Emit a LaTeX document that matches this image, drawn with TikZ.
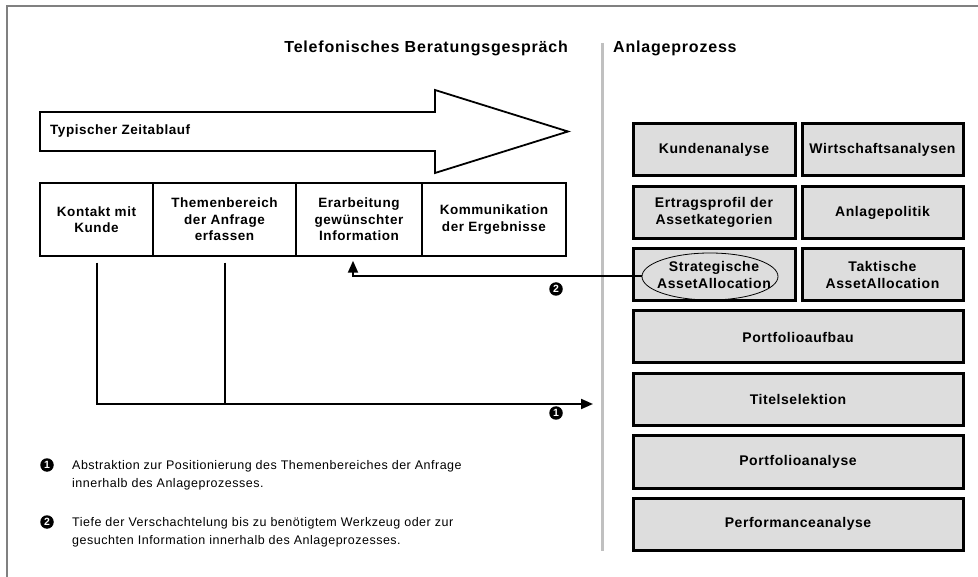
\documentclass[tikz,border=0pt]{standalone}
\usepackage{fontspec}
\setmainfont{Liberation Sans}
\newfontfamily\spaced{Liberation Sans}[LetterSpace=4]
\newfontfamily\wide{Liberation Sans}[LetterSpace=5]
\newfontfamily\legendfont{Liberation Sans}[LetterSpace=4]
\usetikzlibrary{arrows.meta,shapes.geometric}

\definecolor{framegray}{HTML}{808080}
\definecolor{divgray}{HTML}{C0C0C0}
\definecolor{boxgray}{HTML}{DDDDDD}

\tikzset{
  titletext/.style={inner sep=0pt, font=\wide\bfseries\fontsize{16}{19}\selectfont},
  lbox/.style={draw, line width=1.5pt, fill=white, minimum height=73pt,
    align=center, inner sep=1pt, font=\spaced\bfseries\fontsize{13.5}{16.5}\selectfont},
  gbox/.style={draw, line width=3pt, fill=boxgray, minimum height=52pt,
    align=center, inner sep=0pt, font=\spaced\bfseries\fontsize{14}{17}\selectfont},
  conn/.style={line width=2pt},
  tipped/.style={-{Triangle[length=12pt,width=10pt]}},
  marker/.style={circle, fill=black, text=white, inner sep=0pt, minimum size=13.5pt,
    font=\bfseries\fontsize{10.5}{10.5}\selectfont},
  legendtext/.style={anchor=north west, align=left, inner sep=0pt,
    font=\legendfont\fontsize{12.5}{18}\selectfont}
}

\begin{document}
\begin{tikzpicture}[x=1pt, y=-1pt]
\useasboundingbox (0,0) rectangle (978,577);

% outer frame (top and left edges)
\draw[framegray, line width=2pt] (7,577) -- (7,6.5) -- (978,6.5);

% headings and divider
\node[titletext, anchor=east] (tel) at (568,48) {Telefonisches Beratungsgespräch};
\node[titletext, anchor=west] (anl) at (613,48) {Anlageprozess};
\draw[divgray, line width=3pt] (602,43) -- (602,551);

% time line arrow
\draw[line width=1.8pt, fill=white]
  (40,112) -- (435,112) -- (435,90) -- (568,131.5) -- (435,173) -- (435,151) -- (40,151) -- cycle;
\node[anchor=west, inner sep=0pt, font=\spaced\bfseries\fontsize{13.5}{16}\selectfont]
  (zeit) at (50,131.5) {Typischer Zeitablauf};

% phases of the call
\node[lbox, minimum width=113pt] (kon) at (96.5,219.5) {Kontakt mit\\Kunde};
\node[lbox, minimum width=143pt] (the) at (224.5,219.5) {Themenbereich\\der Anfrage\\erfassen};
\node[lbox, minimum width=126pt] (era) at (359,219.5) {Erarbeitung\\gewünschter\\Information};
\node[lbox, minimum width=144pt] (kom) at (494,219.5) {Kommunikation\\der Ergebnisse};

% investment process blocks
\node[gbox, minimum width=162pt] (kun) at (714,150) {Kundenanalyse};
\node[gbox, minimum width=161pt] (wir) at (882.5,150) {Wirtschaftsanalysen};
\node[gbox, minimum width=162pt] (ert) at (714,212.5) {Ertragsprofil der\\Assetkategorien};
\node[gbox, minimum width=161pt] (pol) at (882.5,212.5) {Anlagepolitik};
\node[gbox, minimum width=162pt] (str) at (714,275) {Strategische\\AssetAllocation};
\node[gbox, minimum width=161pt] (tak) at (882.5,275) {Taktische\\AssetAllocation};
\node[gbox, minimum width=330pt] (auf) at (798,337) {Portfolioaufbau};
\node[gbox, minimum width=330pt] (tit) at (798,399.5) {Titelselektion};
\node[gbox, minimum width=330pt] (ana) at (798,462) {Portfolioanalyse};
\node[gbox, minimum width=330pt] (per) at (798,524) {Performanceanalyse};
\node[draw, line width=0.8pt, ellipse, minimum width=136pt, minimum height=47pt, inner sep=0pt]
  (ell) at (710,276.5) {};

% connector 1: from the first two phases into the investment process
\coordinate (end1) at (593,404);
\draw[conn, tipped] ([yshift=-6pt]kon.south) |- (end1);
\draw[conn] ([yshift=-6pt]the.south) -- (the.south |- end1);
\node[marker] (m1) at (556,413) {1};

% connector 2: from the strategic allocation back to the information phase
\draw[conn, tipped] (ell.west) -| ([xshift=-6pt,yshift=-4pt]era.south);
\node[marker] (m2) at (556,289) {2};

% legend
\node[marker] (l1) at (47,465) {1};
\node[legendtext] (t1) at (72,460) {Abstraktion zur Positionierung des Themenbereiches der Anfrage\\innerhalb des Anlageprozesses.};
\node[marker] (l2) at (47,522) {2};
\node[legendtext] (t2) at (72,517) {Tiefe der Verschachtelung bis zu benötigtem Werkzeug oder zur\\gesuchten Information innerhalb des Anlageprozesses.};
\end{tikzpicture}
\end{document}
